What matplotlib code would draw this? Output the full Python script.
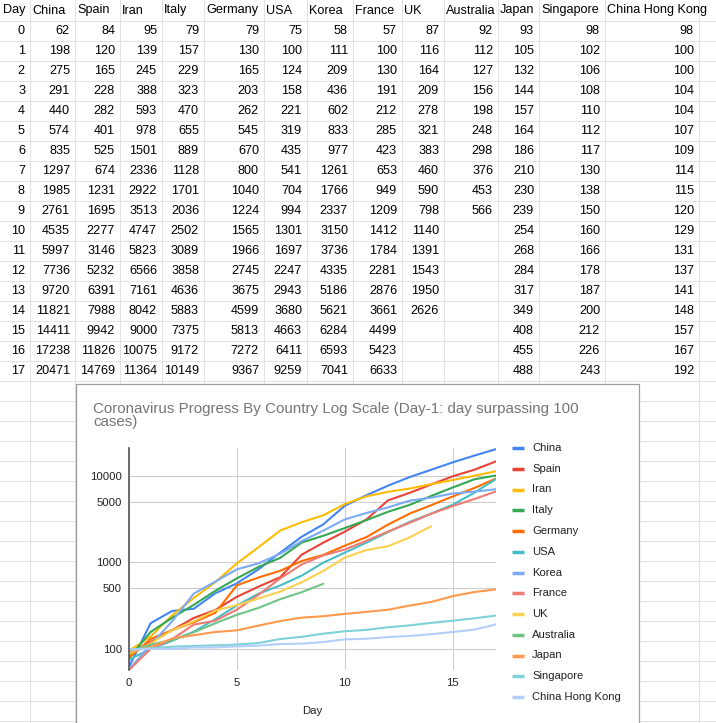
import matplotlib
matplotlib.use('Agg')
import matplotlib.pyplot as plt
from matplotlib.patches import Rectangle

plt.rcParams['font.family'] = ['Liberation Sans', 'DejaVu Sans']

days = list(range(18))
countries = ["China", "Spain", "Iran", "Italy", "Germany", "USA", "Korea",
             "France", "UK", "Australia", "Japan", "Singapore", "China Hong Kong"]
china = [62, 198, 275, 291, 440, 574, 835, 1297, 1985, 2761, 4535, 5997, 7736, 9720, 11821, 14411, 17238, 20471]
spain = [84, 120, 165, 228, 282, 401, 525, 674, 1231, 1695, 2277, 3146, 5232, 6391, 7988, 9942, 11826, 14769]
iran = [95, 139, 245, 388, 593, 978, 1501, 2336, 2922, 3513, 4747, 5823, 6566, 7161, 8042, 9000, 10075, 11364]
italy = [79, 157, 229, 323, 470, 655, 889, 1128, 1701, 2036, 2502, 3089, 3858, 4636, 5883, 7375, 9172, 10149]
germany = [79, 130, 165, 203, 262, 545, 670, 800, 1040, 1224, 1565, 1966, 2745, 3675, 4599, 5813, 7272, 9367]
usa = [75, 100, 124, 158, 221, 319, 435, 541, 704, 994, 1301, 1697, 2247, 2943, 3680, 4663, 6411, 9259]
korea = [58, 111, 209, 436, 602, 833, 977, 1261, 1766, 2337, 3150, 3736, 4335, 5186, 5621, 6284, 6593, 7041]
france = [57, 100, 130, 191, 212, 285, 423, 653, 949, 1209, 1412, 1784, 2281, 2876, 3661, 4499, 5423, 6633]
uk = [87, 116, 164, 209, 278, 321, 383, 460, 590, 798, 1140, 1391, 1543, 1950, 2626]
australia = [92, 112, 127, 156, 198, 248, 298, 376, 453, 566]
japan = [93, 105, 132, 144, 157, 164, 186, 210, 230, 239, 254, 268, 284, 317, 349, 408, 455, 488]
singapore = [98, 102, 106, 108, 110, 112, 117, 130, 138, 150, 160, 166, 178, 187, 200, 212, 226, 243]
hong_kong = [98, 100, 100, 104, 104, 107, 109, 114, 115, 120, 129, 131, 137, 141, 148, 157, 167, 192]
series = [china, spain, iran, italy, germany, usa, korea, france, uk, australia, japan, singapore, hong_kong]
colors = ["#4285F4", "#EA4335", "#FBBC04", "#34A853", "#FF6D01", "#46BDC6", "#7BAAF7",
          "#F07B72", "#FCD04F", "#71C287", "#FF994D", "#7ED1D7", "#B3CEFB"]
y_ticks = [100, 500, 1000, 5000, 10000]
x_ticks = [0, 5, 10, 15]

W, H = 716, 723
fig = plt.figure(figsize=(W / 100, H / 100), dpi=100)
bg = fig.add_axes([0, 0, 1, 1])
bg.set_xlim(0, W)
bg.set_ylim(H, 0)
bg.axis('off')

col_edges = [0, 29, 74, 119, 161, 203, 263, 306, 352, 401, 443, 497, 538, 604, 698, 716]
row_h = 20
grid_c = '#e2e2e2'
for k in range(1, H // row_h + 1):
    bg.plot([0, W], [k * row_h + 0.5] * 2, color=grid_c, lw=0.75)
for x in col_edges[1:-1]:
    bg.plot([x + 0.5] * 2, [0, H], color=grid_c, lw=0.75)

tfs = 9.1
bg.text(col_edges[0] + 3, 10.5, "Day", ha='left', va='center', fontsize=tfs, color='#000000')
for j, name in enumerate(countries):
    bg.text(col_edges[j + 1] + 3, 10.5, name, ha='left', va='center', fontsize=tfs, color='#000000')
for i, d in enumerate(days):
    yc = 30.5 + row_h * i
    bg.text(col_edges[1] - 4, yc, str(d), ha='right', va='center', fontsize=tfs)
    for j, s in enumerate(series):
        if i < len(s):
            bg.text(col_edges[j + 2] - 4, yc, str(s[i]), ha='right', va='center', fontsize=tfs)

# chart box
bg.add_patch(Rectangle((75.5, 383.5), 563, 360, facecolor='white', edgecolor='#9e9e9e', lw=0.9, zorder=5))
bg.text(93, 415.5, "Coronavirus Progress By Country Log Scale (Day-1: day surpassing 100\ncases)",
        ha='left', va='center', fontsize=10.9, color='#757575', linespacing=0.95, zorder=6)

ax = fig.add_axes([129 / W, (H - 670) / H, (496 - 129) / W, (670 - 448) / H])
ax.set_yscale('log')
for name, s, c in zip(countries, series, colors):
    ax.plot(days[:len(s)], s, color=c, lw=1.5, label=name, solid_capstyle='round')
ax.set_xlim(0, 17)
ax.set_ylim(57, 21100)
ax.set_yticks(y_ticks)
ax.set_yticklabels([str(v) for v in y_ticks])
ax.minorticks_off()
ax.set_xticks(x_ticks)
ax.grid(True, color='#cccccc', lw=0.75)
ax.set_axisbelow(True)
for sp in ['top', 'right', 'bottom']:
    ax.spines[sp].set_visible(False)
ax.spines['left'].set_color('#555555')
ax.spines['left'].set_linewidth(1.2)
ax.tick_params(length=0, labelsize=8.2, colors='#222222', pad=5)
ax.tick_params(axis='x', pad=6)
ax.set_xlabel("Day", fontsize=8.2, color='#222222', labelpad=13)
ax.patch.set_alpha(0)

# legend
for i, (name, c) in enumerate(zip(countries, colors)):
    yl = 448 + 20.75 * i
    bg.plot([512, 524], [yl, yl], color=c, lw=2.5, zorder=7, solid_capstyle='butt')
    bg.text(532, yl, name, ha='left', va='center', fontsize=8.1, color='#222222', zorder=7)

fig.savefig('out.png', dpi=100)
